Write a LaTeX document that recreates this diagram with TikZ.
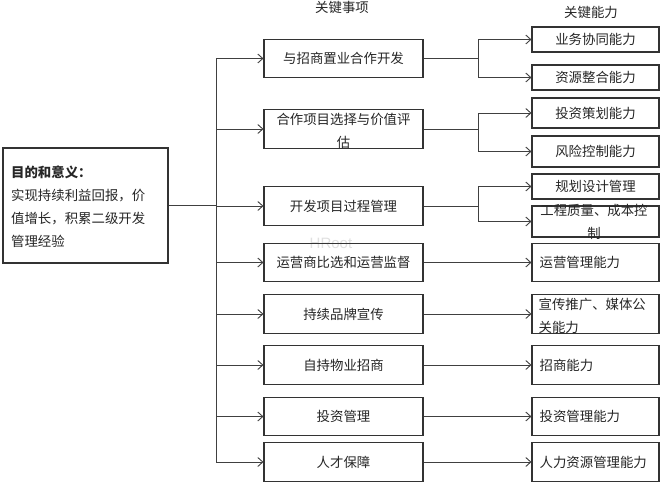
\documentclass[tikz,border=0pt]{standalone}
\usepackage{fontspec}
\setmainfont{Noto Sans CJK SC}
\newfontfamily\wmfont{Liberation Sans}
\usetikzlibrary{arrows.meta}
\begin{document}
\begin{tikzpicture}[x=1pt,y=-1pt,
  font=\fontsize{13.4}{23}\selectfont,
  every node/.style={text=black!85},
  ln/.style={draw=black!75, line width=1pt},
  arr/.style={ln, -{Straight Barb[length=5pt,width=9pt,line width=0.9pt]}},
  mbox/.style={draw=black!80, line width=1.1pt, minimum width=159pt, minimum height=38.5pt, inner sep=0pt},
  rbox/.style={draw=black!80, line width=1.1pt, minimum width=127pt, inner sep=0pt},
  txt/.style={inner sep=0pt, align=center}
]
\useasboundingbox (0,0) rectangle (663,488);
\fill[white] (0,0) rectangle (663,488);

% headers
\node[txt] (h1) at (342,7.5) {关键事项};
\node[txt] (h2) at (591,12) {关键能力};

% watermark
\node[txt, text=black!12, font=\wmfont\fontsize{15}{15}\selectfont] (wm) at (331,243) {HRoot};

% left box
\node[draw=black!80, line width=1.1pt, minimum width=165pt, minimum height=115pt, inner sep=0pt] (L) at (85.5,205.5) {};
\node[anchor=west, align=left, inner sep=0pt] (Lt) at (11,206.5) {{\bfseries 目的和意义：}\\实现持续利益回报，价\\值增长，积累二级开发\\管理经验};

% middle boxes
\node[mbox] (m1) at (343.5,58.5) {与招商置业合作开发};
\node[mbox] (m2) at (343.5,129) {};
\node[txt] (m2t) at (343.5,130.5) {合作项目选择与价值评\\估};
\node[mbox] (m3) at (343.5,206) {开发项目过程管理};
\node[mbox] (m4) at (343.5,262.5) {运营商比选和运营监督};
\node[mbox] (m5) at (343.5,314) {持续品牌宣传};
\node[mbox] (m6) at (343.5,365) {自持物业招商};
\node[mbox] (m7) at (343.5,416.5) {投资管理};
\node[mbox] (m8) at (343.5,462) {人才保障};

% right boxes (upper)
\node[rbox, minimum height=25pt] (r1) at (595.5,39.5) {业务协同能力};
\node[rbox, minimum height=25pt] (r2) at (595.5,77.5) {资源整合能力};
\node[rbox, minimum height=30pt] (r3) at (595.5,113) {投资策划能力};
\node[rbox, minimum height=31pt] (r4) at (595.5,151.5) {风险控制能力};
\node[rbox, minimum height=25pt] (r5) at (595.5,186.5) {规划设计管理};
\node[rbox, minimum height=31pt] (r6) at (595.5,221.5) {};
\node[txt] (r6t) at (594,221.5) {工程质量、成本控\\制};

% right boxes (lower)
\node[rbox, minimum height=38.5pt] (r7) at (595.5,262.5) {};
\node[rbox, minimum height=38.5pt] (r8) at (595.5,314) {};
\node[rbox, minimum height=38.5pt] (r9) at (595.5,365) {};
\node[rbox, minimum height=38.5pt] (r10) at (595.5,416.5) {};
\node[rbox, minimum height=38.5pt] (r11) at (595.5,462) {};
\node[txt, anchor=west] (r7t) at ([xshift=8pt]r7.west) {运营管理能力};
\node[txt, anchor=west, align=left] (r8t) at ([xshift=7pt,yshift=-1.5pt]r8.west) {宣传推广、媒体公\\关能力};
\node[txt, anchor=west] (r9t) at ([xshift=8pt]r9.west) {招商能力};
\node[txt, anchor=west] (r10t) at ([xshift=8pt]r10.west) {投资管理能力};
\node[txt, anchor=west] (r11t) at ([xshift=8pt]r11.west) {人力资源管理能力};

% trunk
\coordinate (tx) at (216,0);
\coordinate (bx) at (478,0);
\draw[ln] (L.east) -- (L.east -| tx);
\draw[ln] (m1 -| tx) -- (m8 -| tx);
\foreach \i in {1,...,8} {
  \draw[arr] (m\i -| tx) -- (m\i.west);
}

% branches
\draw[ln] (m1.east) -- (m1 -| bx);
\draw[ln] (r1 -| bx) -- (r2 -| bx);
\draw[arr] (r1 -| bx) -- (r1.west);
\draw[arr] (r2 -| bx) -- (r2.west);

\draw[ln] (m2.east) -- (m2 -| bx);
\draw[ln] (r3 -| bx) -- (r4 -| bx);
\draw[arr] (r3 -| bx) -- (r3.west);
\draw[arr] (r4 -| bx) -- (r4.west);

\draw[ln] (m3.east) -- (m3 -| bx);
\draw[ln] (r5 -| bx) -- (r6 -| bx);
\draw[arr] (r5 -| bx) -- (r5.west);
\draw[arr] (r6 -| bx) -- (r6.west);

% straight links
\draw[arr] (m4.east) -- (r7.west);
\draw[arr] (m5.east) -- (r8.west);
\draw[arr] (m6.east) -- (r9.west);
\draw[arr] (m7.east) -- (r10.west);
\draw[arr] (m8.east) -- (r11.west);
\end{tikzpicture}
\end{document}
